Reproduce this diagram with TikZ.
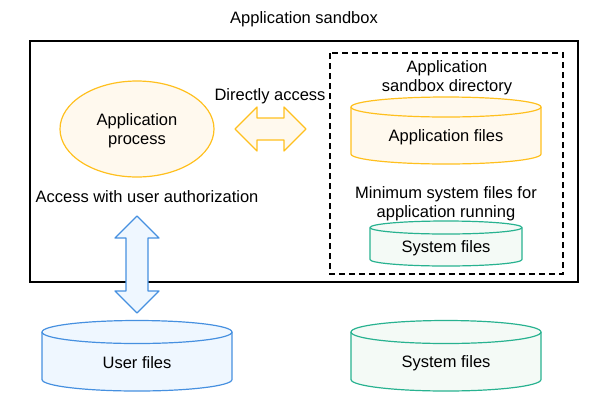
\documentclass[tikz,border=0pt]{standalone}
\usepackage{fontspec}
\setmainfont{Liberation Sans}
\usetikzlibrary{shapes.geometric}
\definecolor{appline}{RGB}{255,192,30}
\definecolor{appfill}{RGB}{255,249,238}
\definecolor{userline}{RGB}{70,144,224}
\definecolor{userfill}{RGB}{239,247,255}
\definecolor{sysline}{RGB}{40,178,144}
\definecolor{sysfill}{RGB}{244,250,246}

\begin{document}
\begin{tikzpicture}[x=1bp,y=-1bp,
    lbl/.style={font=\fontsize{16.5bp}{19bp}\selectfont,align=center,inner sep=0pt},
    shell/.style={line width=1.2bp,line join=round}]
\useasboundingbox (0,0) rectangle (592,406);
\node[lbl] (title) at (304,19.5) {Application sandbox};
%% sandbox frame
\draw[line width=2.5bp] (30,41) rectangle (578,282);
\draw[line width=2bp,dash pattern=on 6bp off 4bp] (330,53) rectangle (563,274);
%% process
\node[shape=ellipse,draw=appline,fill=appfill,line width=1.2bp,
      minimum width=154bp,minimum height=96bp] (proc) at (137,129) {};
\node[lbl] (proctxt) at (137,130.5) {Application\\process};
\node[lbl] (direct) at (270,96.5) {Directly access};
\node[lbl] (auth) at (147,196.5) {Access with user authorization};
\node[lbl] (sbdir) at (447,77.5) {Application\\sandbox directory};
\node[lbl] (minsys) at (446,204) {Minimum system files for\\application running};
%% cylinders
\foreach \nm/\cx/\ty/\by/\rx/\ry/\lc/\fc/\txt in
   {appfiles/446/107/154/95/10/appline/appfill/Application files,
    minfiles/446/227.5/259.5/76/6.5/sysline/sysfill/System files,
    userfiles/137/332/379.5/95/11.5/userline/userfill/User files,
    sysfiles/446/332/379.5/95/11.5/sysline/sysfill/System files}{
  \filldraw[shell,draw=\lc,fill=\fc] ({\cx-\rx},\ty) -- ({\cx-\rx},\by)
        arc[start angle=180,end angle=0,x radius=\rx,y radius=\ry]
        -- ({\cx+\rx},\ty) arc[start angle=0,end angle=-180,x radius=\rx,y radius=\ry] -- cycle;
  \draw[shell,draw=\lc] ({\cx-\rx},\ty) arc[start angle=180,end angle=0,x radius=\rx,y radius=\ry];
  \node[lbl] (\nm) at (\cx,{(\ty+\by+\ry)/2+1.5}) {\txt};
}
%% access arrows
\coordinate (da) at (235,129);
\coordinate (db) at (306,129);
\filldraw[shell,draw=appline,fill=appfill] (da) -- ++(22,-22) -- ++(0,11) -- ++(27,0) -- ++(0,-11)
     -- (db) -- ++(-22,22) -- ++(0,-11) -- ++(-27,0) -- ++(0,11) -- cycle;
\coordinate (ua) at (137,216);
\coordinate (ub) at (137,313);
\filldraw[shell,draw=userline,fill=userfill] (ua) -- ++(22,22) -- ++(-11,0) -- ++(0,53) -- ++(11,0)
     -- (ub) -- ++(-22,-22) -- ++(11,0) -- ++(0,-53) -- ++(-11,0) -- cycle;
\end{tikzpicture}
\end{document}
